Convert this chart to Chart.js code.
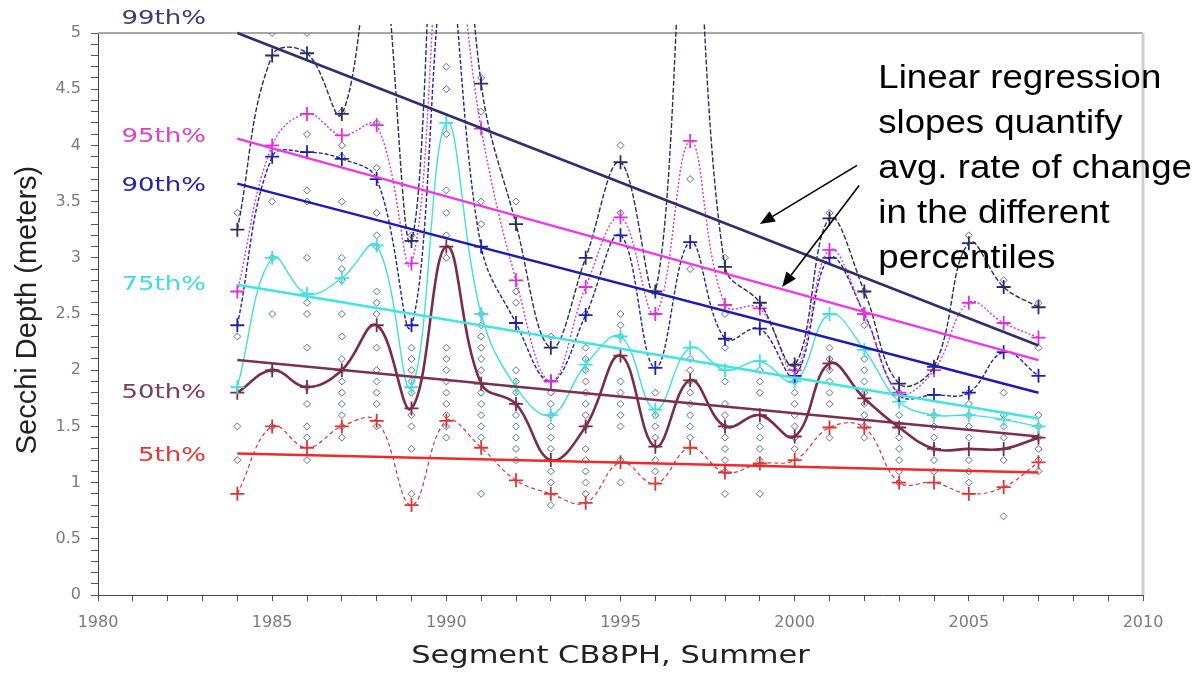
<!DOCTYPE html>
<html><head><meta charset="utf-8">
<script src="https://cdn.jsdelivr.net/npm/chart.js@4/dist/chart.umd.min.js"></script>
<style>html,body{margin:0;padding:0;background:#fff}#wrap{width:1197px;height:674px}</style>
</head><body><div id="wrap"><canvas id="c" width="1197" height="674"></canvas></div>
<script>
// ---- data ----
const years = [1984,1985,1986,1987,1988,1989,1990,1991,1992,1993,1994,1995,1996,1997,1998,1999,2000,2001,2002,2003,2004,2005,2006,2007];
const p99 = [3.25,4.8,4.82,4.28,6.0,3.15,8.0,4.55,3.3,2.2,3.0,3.85,2.7,6.5,2.92,2.6,2.05,3.35,2.7,1.88,2.03,3.13,2.74,2.56];
const p95 = [2.7,4.0,4.28,4.09,4.18,2.95,6.2,4.15,2.8,1.9,2.74,3.36,2.5,4.04,2.58,2.55,2.0,3.07,2.5,1.8,2.0,2.6,2.42,2.29];
const p90 = [2.4,3.9,3.94,3.88,3.7,2.4,5.6,3.1,2.42,1.9,2.49,3.2,2.02,3.14,2.28,2.37,1.95,3.0,2.5,1.78,1.78,1.8,2.16,1.95];
const p75 = [1.85,3.0,2.68,2.82,3.11,1.85,4.2,2.5,1.85,1.6,2.05,2.3,1.65,2.2,2.0,2.08,1.9,2.5,2.18,1.72,1.6,1.6,1.56,1.5];
const p50 = [1.8,2.0,1.85,2.0,2.4,1.66,3.1,1.88,1.7,1.2,1.5,2.13,1.32,1.91,1.5,1.6,1.41,2.06,1.75,1.49,1.3,1.3,1.3,1.4];
const p5  = [0.9,1.5,1.31,1.5,1.55,0.8,1.55,1.31,1.02,0.9,0.82,1.18,0.99,1.31,1.09,1.17,1.2,1.49,1.49,1.0,1.0,0.9,0.96,1.18];
const pctNames = ["99th%","95th%","90th%","75th%","50th%","5th%"];
const regStart = [5.0,4.06,3.66,2.76,2.09,1.26];   // fitted value at first year
const regEnd   = [2.22,2.09,1.80,1.57,1.41,1.09];  // fitted value at last year
const rawObs = [
 [3.4,2.3,1.5,1.2],
 [5.0,3.5,3.0,2.5,2.0,1.5],
 [5.0,4.1,3.6,3.5,3.0,2.6,2.5,2.2,1.85,1.7,1.5,1.4,1.2],
 [4.3,4.0,3.9,3.5,3.0,2.9,2.8,2.5,2.3,2.1,2.0,1.9,1.8,1.7,1.6,1.5,1.4],
 [4.2,3.8,3.4,3.2,3.1,2.7,2.6,2.5,2.2,2.0,1.9,1.8,1.7,1.5],
 [3.2,2.2,2.1,2.0,1.9,1.8,1.6,1.5,1.3,0.9],
 [4.7,4.5,4.1,3.6,3.4,3.2,3.0,2.2,2.1,2.0,1.9,1.8,1.7,1.6,1.5,1.4],
 [4.6,4.3,3.5,3.3,2.5,2.4,2.3,2.2,2.1,2.0,1.8,1.7,1.6,1.5,1.4,0.9],
 [3.5,2.7,2.6,2.0,1.9,1.8,1.7,1.6,1.5,1.4,1.3,1.2],
 [2.3,1.8,1.7,1.6,1.5,1.4,1.3,1.1,1.0,0.8],
 [2.5,2.2,2.1,2.0,1.9,1.8,1.7,1.6,1.5,1.3,1.2,1.1,1.0,0.9],
 [4.0,3.4,2.5,2.4,2.3,1.9,1.8,1.7,1.6,1.5,1.2,1.0],
 [2.7,1.8,1.6,1.5,1.4,1.2,1.1],
 [3.7,2.9,2.1,2.0,1.9,1.8,1.7,1.6,1.5,1.4],
 [3.0,2.5,2.2,1.9,1.7,1.6,1.5,1.4,1.3,1.2,1.1,0.9],
 [2.0,1.9,1.8,1.5,1.4,1.3,1.2,0.9],
 [2.05,1.9,1.8,1.7,1.6,1.5,1.4,1.3],
 [3.4,2.2,2.1,2.0,1.9,1.8,1.7,1.4],
 [2.7,2.4,2.1,2.0,1.9,1.8,1.7,1.6,1.5,1.4],
 [1.8,1.6,1.5,1.4,1.3,1.2,1.1,1.0],
 [1.6,1.5,1.4,1.3,1.2,1.1],
 [3.2,1.8,1.7,1.6,1.5,1.4,1.2,1.1,1.0],
 [2.8,1.8,1.6,1.5,1.4,1.2,0.7],
 [2.6,2.2,1.6,1.5,1.4,1.3,1.2,1.1]
];
const xTickLabels = ["1980","1985","1990","1995","2000","2005","2010"];
const yTickLabels = ["0","0.5","1","1.5","2","2.5","3","3.5","4","4.5","5"];
const xTitle = "Segment CB8PH, Summer";
const yTitle = "Secchi Depth (meters)";
const noteLines = ["Linear regression","slopes quantify","avg. rate of change","in the different","percentiles"];

// ---- styles ----
const series = [p99,p95,p90,p75,p50,p5];
const curveColors = ["#2b2b66","#e030d8","#2020b0","#3fe0e0","#7a2c48","#e03434"];
const regColors   = ["#2e2e6e","#ee38e6","#1c1cb4","#40e4e4","#7c3050","#ee2a2a"];
const labelColors = ["#3a3a7a","#e040c8","#2424a4","#40dcdc","#7e3c52","#e23838"];
const curveDash   = [[5,2],[2,2],[4,2],[],[],[4,3]];
const curveWidth  = [1.4,1.4,1.4,1.4,2.6,1.2];

const datasets = [];
const obsPts = [];
rawObs.forEach((vals,i)=>vals.forEach(v=>obsPts.push({x:years[i],y:v})));
datasets.push({data:obsPts, showLine:false, pointStyle:'rectRot', pointRadius:3.5,
  pointBorderWidth:1, pointBorderColor:'#5e6e98', pointBackgroundColor:'rgba(255,255,255,0)', order:10, clip:0});
series.forEach((s,k)=>{
  datasets.push({data:s.map((v,i)=>({x:years[i],y:v})), borderColor:curveColors[k], borderWidth:curveWidth[k],
    borderDash:curveDash[k], tension:0.4, pointStyle:'cross', pointRadius:7, pointBorderWidth:1.8,
    pointBorderColor:curveColors[k], pointBackgroundColor:curveColors[k], order:5,
    clip:{left:2,top:9,right:2,bottom:2}});
});
series.forEach((s,k)=>{
  datasets.push({data:[{x:years[0],y:regStart[k]},{x:years[years.length-1],y:regEnd[k]}],
    borderColor:regColors[k], borderWidth:2.5, pointRadius:0, tension:0, order:1, clip:{left:2,top:3,right:2,bottom:2}});
});

function stretchedText(ctx, text, px, py, sx, align){
  ctx.save();
  ctx.translate(px, py); ctx.scale(sx, 1);
  ctx.textAlign = align;
  ctx.fillText(text, 0, 0);
  ctx.restore();
}

const overlay = {
  id:'overlay',
  beforeDatasetsDraw(chart){
    const {ctx, chartArea:a} = chart;
    ctx.save();
    ctx.strokeStyle='#a8a8a8'; ctx.lineWidth=2;
    ctx.beginPath(); ctx.moveTo(a.left,a.top); ctx.lineTo(a.right,a.top); ctx.stroke();
    ctx.strokeStyle='#cfcfcf'; ctx.lineWidth=3;
    ctx.beginPath(); ctx.moveTo(a.right,a.top); ctx.lineTo(a.right,a.bottom); ctx.stroke();
    ctx.restore();
  },
  afterDraw(chart){
    const {ctx, chartArea:a, scales:{x,y}} = chart;
    const o = chart.options.plugins.overlay;
    ctx.save();
    // axis titles
    ctx.fillStyle='#222'; ctx.textBaseline='middle';
    ctx.font='25px "DejaVu Sans"';
    stretchedText(ctx, xTitle, (a.left+a.right)/2 - 10, chart.height - 18, 1.22, 'center');
    ctx.save();
    ctx.translate(28, (a.top+a.bottom)/2 - 4); ctx.rotate(-Math.PI/2);
    ctx.font='29px "Liberation Sans", Arial, sans-serif'; ctx.textAlign='center';
    ctx.fillText(yTitle, 0, 0);
    ctx.restore();
    // percentile labels
    ctx.font='20px "DejaVu Sans"';
    ctx.textBaseline='middle';
    pctNames.forEach((t,i)=>{
      ctx.fillStyle = labelColors[i];
      stretchedText(ctx, t, x.getPixelForValue(o.labelX), y.getPixelForValue(o.labelAt[i]), 1.3, 'right');
    });
    // annotation text
    ctx.fillStyle='#000'; ctx.textBaseline='alphabetic';
    ctx.font='33px "Liberation Sans", Arial, sans-serif';
    const tx = x.getPixelForValue(o.noteX);
    noteLines.forEach((t,i)=>stretchedText(ctx, t, tx, y.getPixelForValue(o.noteY) + i*o.noteGap, 1.11, 'left'));
    // arrows
    ctx.strokeStyle='#000'; ctx.fillStyle='#000'; ctx.lineWidth=1.6;
    o.arrows.forEach(ar=>{
      const x0=x.getPixelForValue(ar[0]), y0=y.getPixelForValue(ar[1]);
      const x1=x.getPixelForValue(ar[2]), y1=y.getPixelForValue(ar[3]);
      const ang=Math.atan2(y1-y0,x1-x0), L=15, W=6;
      const bx=x1-L*Math.cos(ang), by=y1-L*Math.sin(ang);
      ctx.beginPath(); ctx.moveTo(x0,y0); ctx.lineTo(bx,by); ctx.stroke();
      ctx.beginPath(); ctx.moveTo(x1,y1);
      ctx.lineTo(bx+W*Math.sin(ang), by-W*Math.cos(ang));
      ctx.lineTo(bx-W*Math.sin(ang), by+W*Math.cos(ang));
      ctx.closePath(); ctx.fill();
    });
    ctx.restore();
  }
};

new Chart(document.getElementById('c'), {
  type:'line',
  data:{datasets},
  plugins:[overlay],
  options:{
    responsive:false, animation:false, events:[],
    layout:{padding:{left:0,right:54,top:33,bottom:0}},
    elements:{line:{capBezierPoints:false}},
    plugins:{legend:{display:false}, tooltip:{enabled:false},
      overlay:{labelX:1983.1, labelAt:[5.13,4.08,3.64,2.76,1.80,1.24],
        noteX:2002.4, noteY:4.507, noteGap:44.8,
        arrows:[[2001.79,3.822,1999.0,3.30],[2001.85,3.644,1999.64,2.74]]}},
    scales:{
      x:{type:'linear', min:1980, max:2010,
        afterFit:s=>{s.height=79;},
        afterBuildTicks:s=>{ s.ticks=[]; for(let v=1980; v<=2010; v++) s.ticks.push({value:v}); },
        ticks:{autoSkip:false, maxRotation:0, padding:12, color:'#7a7a7a',
          font:{family:'DejaVu Sans', size:16},
          callback:(v)=>{ const i=xTickLabels.indexOf(String(v)); return i>=0?xTickLabels[i]:''; }},
        grid:{drawOnChartArea:false, drawTicks:true, tickLength:6, color:'#555'},
        border:{display:true, color:'#444', width:1},
        title:{display:false}},
      y:{type:'linear', min:0, max:5,
        afterFit:s=>{s.width=98;},
        afterBuildTicks:s=>{ s.ticks=[]; for(let r=0; r<=50; r++) s.ticks.push({value:r/10}); },
        ticks:{autoSkip:false, padding:10, color:'#7a7a7a',
          font:{family:'DejaVu Sans', size:16},
          callback:(v)=>{ const r=Math.round(v*10); return r%5===0 ? yTickLabels[r/5] : ''; }},
        grid:{drawOnChartArea:false, drawTicks:true, tickLength:7, color:'#555'},
        border:{display:true, color:'#444', width:1},
        title:{display:false}}
    }
  }
});
</script></body></html>
